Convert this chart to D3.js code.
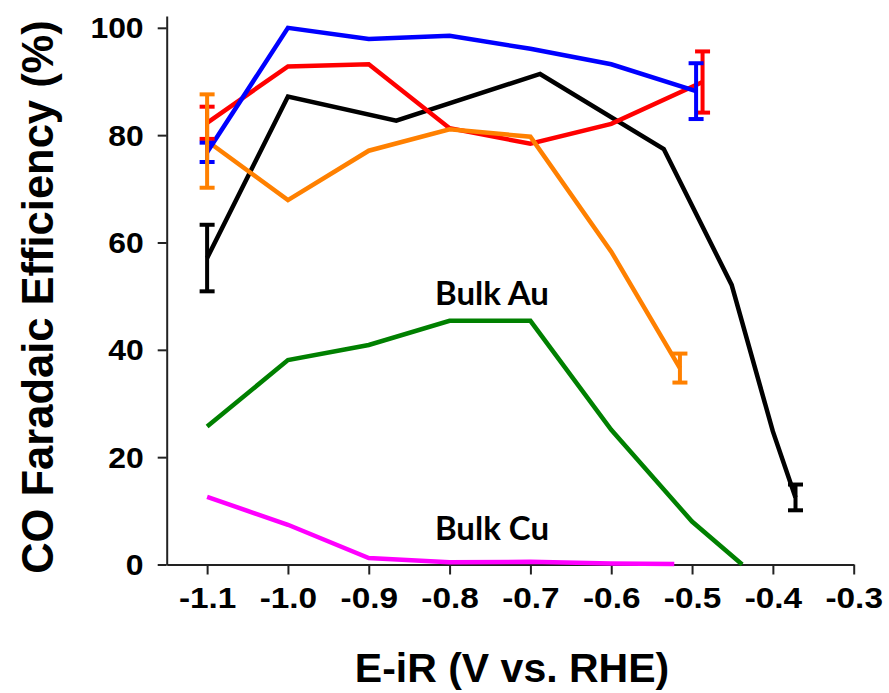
<!DOCTYPE html>
<html>
<head>
<meta charset="utf-8">
<script src="https://cdn.jsdelivr.net/npm/d3@7/dist/d3.min.js"></script>
<style>
  html, body { margin: 0; padding: 0; background: #fff; }
  svg { display: block; }
</style>
</head>
<body>
<svg id="chart" width="889" height="693"></svg>
<script>
// ---------- data ----------
const xTicks = [-1.1, -1.0, -0.9, -0.8, -0.7, -0.6, -0.5, -0.4, -0.3];
const xTickLabels = ["-1.1", "-1.0", "-0.9", "-0.8", "-0.7", "-0.6", "-0.5", "-0.4", "-0.3"];
const yTicks = [0, 20, 40, 60, 80, 100];
const yTickLabels = ["0", "20", "40", "60", "80", "100"];

const blackE = [-1.1, -1.0, -0.866, -0.688, -0.535, -0.451, -0.4, -0.372];
const blackFE = [57.1, 87.2, 82.7, 91.4, 77.4, 52.1, 24.8, 12.5];
const blackErr = [6.2, null, null, null, null, null, null, 2.4];

const redE = [-1.1, -1.0, -0.9, -0.8, -0.7, -0.6, -0.487];
const redFE = [82.3, 92.8, 93.2, 81.3, 78.4, 82.1, 89.9];
const redErr = [3.0, null, null, null, null, null, 5.7];

const blueE = [-1.1, -1.0, -0.9, -0.8, -0.7, -0.6, -0.495];
const blueFE = [76.8, 100, 97.9, 98.5, 96.1, 93.2, 88.2];
const blueErr = [1.8, null, null, null, null, null, 5.2];

const orangeE = [-1.1, -1.0, -0.9, -0.8, -0.7, -0.6, -0.515];
const orangeFE = [78.9, 67.9, 77.1, 81.1, 79.7, 58.3, 36.6];
const orangeErr = [8.7, null, null, null, null, null, 2.7];

const bulkAuE = [-1.1, -1.0, -0.9, -0.8, -0.7, -0.6, -0.5, -0.438];
const bulkAuFE = [25.7, 38.1, 40.9, 45.4, 45.4, 25.1, 8.0, 0];

const bulkCuE = [-1.1, -1.0, -0.9, -0.8, -0.7, -0.6, -0.522];
const bulkCuFE = [12.6, 7.4, 1.2, 0.4, 0.5, 0.2, 0.1];

const labelAu = "Bulk Au";
const labelCu = "Bulk Cu";
const xTitle = "E-iR (V vs. RHE)";
const yTitle = "CO Faradaic Efficiency (%)";

// ---------- layout ----------
const svg = d3.select("#chart");
const x = d3.scaleLinear().domain([-1.15, -0.3]).range([166.7, 853.7]);
const y = d3.scaleLinear().domain([0, 102.2]).range([564.5, 16]);

const axisColor = "#222";
const tickFont = "'Liberation Sans', Arial, Helvetica, sans-serif";

// x axis
const gx = svg.append("g").attr("transform", `translate(0,${y(0)})`)
  .call(d3.axisBottom(x).tickValues(xTicks).tickSize(10).tickSizeOuter(0).tickPadding(13)
    .tickFormat((d, i) => xTickLabels[i]));
gx.select(".domain").attr("stroke", axisColor).attr("stroke-width", 2);
gx.selectAll(".tick line").attr("stroke", axisColor).attr("stroke-width", 2);
gx.selectAll(".tick text")
  .attr("font-family", tickFont).attr("font-weight", "bold").attr("font-size", 29)
  .attr("fill", "#000").attr("dy", "0.71em")
  .attr("transform", "scale(1.15,1)");

// y axis
const gy = svg.append("g").attr("transform", `translate(${x(-1.15)},0)`)
  .call(d3.axisLeft(y).tickValues(yTicks).tickSize(9).tickSizeOuter(0).tickPadding(12)
    .tickFormat((d, i) => yTickLabels[i]));
gy.select(".domain").attr("stroke", axisColor).attr("stroke-width", 2);
gy.selectAll(".tick line").attr("stroke", axisColor).attr("stroke-width", 2);
gy.selectAll(".tick text")
  .attr("font-family", tickFont).attr("font-weight", "bold").attr("font-size", 29)
  .attr("fill", "#000").attr("dy", "0.35em")
  .attr("transform", "scale(1.1,1)");

// titles
svg.append("text")
  .attr("x", 512).attr("y", 682)
  .attr("text-anchor", "middle")
  .attr("font-family", tickFont).attr("font-weight", "bold").attr("font-size", 41)
  .text(xTitle);

svg.append("text")
  .attr("transform", "translate(53,297) rotate(-90)")
  .attr("text-anchor", "middle")
  .attr("font-family", tickFont).attr("font-weight", "bold").attr("font-size", 43.5)
  .text(yTitle);

// ---------- series ----------
const line = d3.line().x(d => x(d[0])).y(d => y(d[1]));
function drawSeries(E, FE, color, w) {
  svg.append("path")
    .datum(E.map((e, i) => [e, FE[i]]))
    .attr("d", line)
    .attr("fill", "none").attr("stroke", color)
    .attr("stroke-width", w).attr("stroke-linejoin", "miter");
}
function drawErr(E, FE, err, color) {
  const data = E.map((e, i) => ({e, v: FE[i], s: err[i]})).filter(d => d.s != null);
  const g = svg.append("g").attr("stroke", color).attr("stroke-width", 4).attr("fill", "none");
  data.forEach(d => {
    const cx = x(d.e);
    g.append("line").attr("x1", cx).attr("x2", cx).attr("y1", y(d.v - d.s)).attr("y2", y(d.v + d.s));
    g.append("line").attr("x1", cx - 7.5).attr("x2", cx + 7.5).attr("y1", y(d.v - d.s)).attr("y2", y(d.v - d.s));
    g.append("line").attr("x1", cx - 7.5).attr("x2", cx + 7.5).attr("y1", y(d.v + d.s)).attr("y2", y(d.v + d.s));
  });
}

drawSeries(bulkAuE, bulkAuFE, "#008000", 4.5);
drawSeries(bulkCuE, bulkCuFE, "#ff00ff", 4.5);
drawSeries(blackE, blackFE, "#000000", 4.5);
drawSeries(redE, redFE, "#ff0000", 4.5);
drawSeries(orangeE, orangeFE, "#ff8000", 4.5);
drawSeries(blueE, blueFE, "#0000ff", 4.5);

drawErr(blackE, blackFE, blackErr, "#000000");
drawErr(redE, redFE, redErr, "#ff0000");
drawErr(blueE, blueFE, blueErr, "#0000ff");
drawErr(orangeE, orangeFE, orangeErr, "#ff8000");

// labels
const labelFont = "Lato, 'Open Sans', sans-serif";
svg.append("text").attr("x", 492).attr("y", 305).attr("text-anchor", "middle")
  .attr("font-family", labelFont).attr("font-weight", "bold").attr("font-size", 33)
  .text(labelAu);
svg.append("text").attr("x", 492).attr("y", 539.5).attr("text-anchor", "middle")
  .attr("font-family", labelFont).attr("font-weight", "bold").attr("font-size", 33)
  .text(labelCu);
</script>
</body>
</html>
